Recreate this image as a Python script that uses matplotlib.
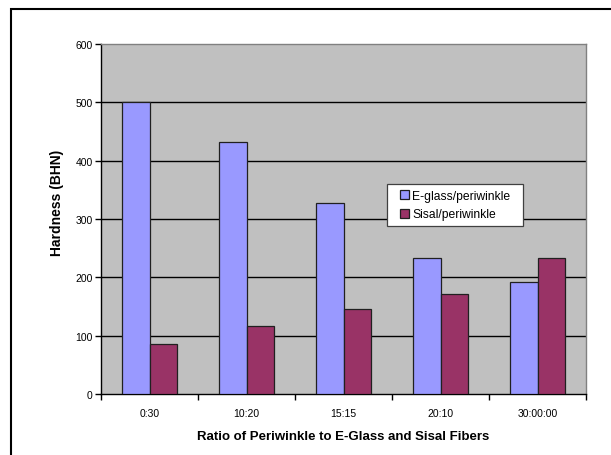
import matplotlib
matplotlib.use("Agg")
import matplotlib.pyplot as plt
import numpy as np
from matplotlib.patches import Rectangle

categories = ["0:30", "10:20", "15:15", "20:10", "30:00:00"]
eglass = [500, 432, 327, 233, 192]
sisal = [86, 117, 145, 172, 233]
series_names = ["E-glass/periwinkle", "Sisal/periwinkle"]
yticks = [0, 100, 200, 300, 400, 500, 600]

plt.rcParams['font.family'] = ['Liberation Sans', 'DejaVu Sans']

W, H = 611, 456
fig = plt.figure(figsize=(W/100, H/100), dpi=100)
fig.patch.set_facecolor('white')

# outer frame (partially cropped at right/bottom)
fig.patches.append(Rectangle((11/W, -0.1), 1.2, 1 - 10/H + 0.1, transform=fig.transFigure,
                             fill=False, edgecolor='black', linewidth=1.5))

ax = fig.add_axes([101/W, 1 - 395/H, 485/W, 350/H])
ax.set_facecolor('#C0C0C0')

x = np.arange(len(categories))
bw = 0.285
ax.bar(x - bw/2, eglass, bw, color='#9999FF', edgecolor='#202020', linewidth=0.9,
       label=series_names[0], zorder=3)
ax.bar(x + bw/2, sisal, bw, color='#993366', edgecolor='#202020', linewidth=0.9,
       label=series_names[1], zorder=3)

ax.set_xlim(-0.5, len(categories) - 0.5)
ax.set_ylim(0, 600)
ax.set_yticks(yticks)
ax.set_yticklabels([str(v) for v in yticks], fontsize=7.5)
ax.set_xticks(x)
ax.set_xticklabels(categories, fontsize=7.5)
ax.tick_params(axis='x', length=0, pad=10)
ax.set_xticks(np.arange(len(categories) + 1) - 0.5, minor=True)
ax.tick_params(axis='x', which='minor', length=4, width=1, direction='out', color='black')
ax.tick_params(axis='y', length=4, width=1, direction='out', pad=2)

for v in yticks[1:-1]:
    ax.axhline(v, color='black', linewidth=1.0, zorder=1)

for s in ['top', 'right']:
    ax.spines[s].set_color('#808080')
    ax.spines[s].set_linewidth(1.0)
for s in ['left', 'bottom']:
    ax.spines[s].set_color('black')
    ax.spines[s].set_linewidth(1.0)

ax.set_xlabel("Ratio of Periwinkle to E-Glass and Sisal Fibers", fontsize=9.5,
              fontweight='bold', labelpad=9)
fig.text(57/W, 1 - 203/H, "Hardness (BHN)", rotation=90, fontsize=10,
         fontweight='bold', ha='center', va='center')

# legend box (drawn separately for the wider horizontal padding)
lx0, ly0, lx1, ly1 = 387, 185, 523, 227
fig.patches.append(Rectangle((lx0/W, 1 - ly1/H), (lx1 - lx0)/W, (ly1 - ly0)/H,
                             transform=fig.transFigure, facecolor='white',
                             edgecolor='#404040', linewidth=0.9, zorder=5))
leg = fig.legend(loc='center', bbox_to_anchor=((lx0 + lx1)/2/W, 1 - (ly0 + ly1)/2/H),
                 fontsize=8.7, frameon=False, borderpad=0,
                 handlelength=0.75, handleheight=0.75, handletextpad=0.25,
                 labelspacing=0.55, borderaxespad=0)
leg.set_zorder(6)

fig.savefig("out.png", dpi=100)
